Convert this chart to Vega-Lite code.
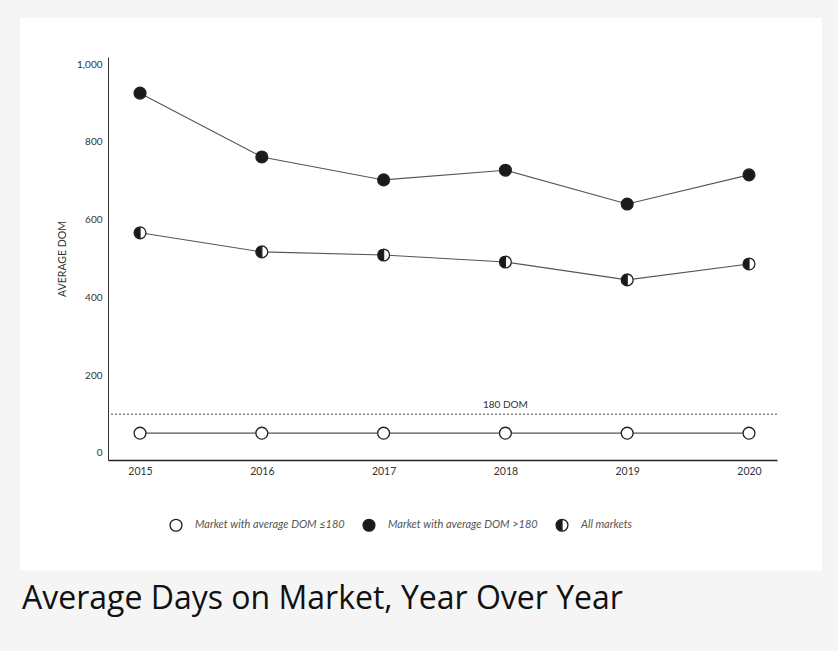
{
  "$schema": "https://vega.github.io/schema/vega-lite/v6.json",
  "autosize": "none",
  "width": 669,
  "height": 403,
  "padding": {"left": 108, "top": 57, "right": 61, "bottom": 191},
  "background": "#f5f5f5",
  "view": {"stroke": null},
  "title": {
    "text": "Average Days on Market, Year Over Year",
    "orient": "bottom",
    "anchor": "start",
    "frame": "group",
    "offset": 13,
    "dx": -86,
    "font": "Open Sans",
    "fontSize": 32,
    "fontWeight": 400,
    "color": "#111111"
  },
  "config": {
    "font": "Lato",
    "axis": {
      "labelFont": "Lato",
      "labelColor": "#333333",
      "labelFontSize": 10,
      "ticks": false,
      "tickSize": 0,
      "grid": false,
      "titleFont": "Lato",
      "titleFontWeight": 400,
      "titleColor": "#333333"
    },
    "legend": {
      "labelFont": "Lato",
      "labelFontStyle": "italic",
      "labelFontSize": 11,
      "labelColor": "#555555"
    }
  },
  "datasets": {
    "dom": [
      {"year": 2015, "series": "Market with average DOM ≤180", "dom": 51},
      {"year": 2016, "series": "Market with average DOM ≤180", "dom": 51},
      {"year": 2017, "series": "Market with average DOM ≤180", "dom": 51},
      {"year": 2018, "series": "Market with average DOM ≤180", "dom": 51},
      {"year": 2019, "series": "Market with average DOM ≤180", "dom": 51},
      {"year": 2020, "series": "Market with average DOM ≤180", "dom": 51},
      {"year": 2015, "series": "Market with average DOM >180", "dom": 925},
      {"year": 2016, "series": "Market with average DOM >180", "dom": 761},
      {"year": 2017, "series": "Market with average DOM >180", "dom": 702},
      {"year": 2018, "series": "Market with average DOM >180", "dom": 727},
      {"year": 2019, "series": "Market with average DOM >180", "dom": 640},
      {"year": 2020, "series": "Market with average DOM >180", "dom": 715},
      {"year": 2015, "series": "All markets", "dom": 566},
      {"year": 2016, "series": "All markets", "dom": 517},
      {"year": 2017, "series": "All markets", "dom": 509},
      {"year": 2018, "series": "All markets", "dom": 491},
      {"year": 2019, "series": "All markets", "dom": 445},
      {"year": 2020, "series": "All markets", "dom": 486}
    ],
    "threshold": [
      {"dom": 100, "label": "180 DOM", "year": 2018}
    ],
    "panel": [
      {"kind": "figure"}
    ]
  },
  "layer": [
    {
      "description": "white chart panel",
      "data": {"name": "panel"},
      "mark": {"type": "rect", "fill": "white"},
      "encoding": {
        "x": {"datum": 2014.015, "type": "quantitative", "scale": {"domain": [2014.737, 2020.23], "nice": false, "zero": false}},
        "x2": {"datum": 2020.599},
        "y": {"datum": 1118, "type": "quantitative", "scale": {"domain": [-18, 1018], "nice": false, "zero": false}},
        "y2": {"datum": -303}
      }
    },
    {
      "data": {"name": "threshold"},
      "mark": {"type": "rule", "stroke": "#444444", "strokeWidth": 1, "strokeDash": [2, 2]},
      "encoding": {
        "y": {"field": "dom", "type": "quantitative"}
      }
    },
    {
      "data": {"name": "threshold"},
      "mark": {"type": "text", "font": "Lato", "fontSize": 10, "color": "#333333", "baseline": "bottom", "dy": -4},
      "encoding": {
        "x": {"field": "year", "type": "quantitative"},
        "y": {"field": "dom", "type": "quantitative"},
        "text": {"field": "label"}
      }
    },
    {
      "data": {"name": "dom"},
      "mark": {"type": "line", "stroke": "#555555", "strokeWidth": 1.1},
      "encoding": {
        "x": {"field": "year", "type": "quantitative"},
        "y": {"field": "dom", "type": "quantitative"},
        "detail": {"field": "series"}
      }
    },
    {
      "data": {"name": "dom"},
      "mark": {"type": "point", "shape": "circle", "filled": true, "fill": "white", "size": 140, "opacity": 1, "strokeWidth": 0},
      "encoding": {
        "x": {"field": "year", "type": "quantitative"},
        "y": {"field": "dom", "type": "quantitative"}
      }
    },
    {
      "data": {"name": "dom"},
      "mark": {"type": "point", "filled": true, "size": 140, "opacity": 1, "strokeWidth": 1.3},
      "encoding": {
        "x": {
          "field": "year",
          "type": "quantitative",
          "title": null,
          "axis": {
            "values": [2015, 2016, 2017, 2018, 2019, 2020],
            "format": "d",
            "domainColor": "#222222",
            "domainWidth": 1.5,
            "labelPadding": 6,
            "labelFontSize": 10.5,
            "zindex": 1
          }
        },
        "y": {
          "field": "dom",
          "type": "quantitative",
          "title": "AVERAGE DOM",
          "axis": {
            "values": [0, 200, 400, 600, 800, 1000],
            "format": ",.0f",
            "domainColor": "#333333",
            "domainWidth": 1,
            "labelPadding": 6,
            "titleFontSize": 10.5,
            "titlePadding": 9,
            "zindex": 1
          }
        },
        "shape": {
          "field": "series",
          "type": "nominal",
          "scale": {
            "domain": ["Market with average DOM ≤180", "Market with average DOM >180", "All markets"],
            "range": ["circle", "circle", "M0,-1A1,1,0,0,0,0,1A1,1,0,0,0,0,-1ZM0,-1A1,1,0,0,1,0,1Z"]
          },
          "legend": {
            "title": null,
            "orient": "none",
            "direction": "horizontal",
            "legendX": 61,
            "legendY": 461,
            "symbolSize": 140,
            "symbolStrokeWidth": 1.3,
            "labelOffset": 12,
            "columnPadding": 15
          }
        },
        "fill": {
          "field": "series",
          "type": "nominal",
          "scale": {
            "domain": ["Market with average DOM ≤180", "Market with average DOM >180", "All markets"],
            "range": ["white", "#1a1a1a", "#1a1a1a"]
          }
        },
        "stroke": {
          "field": "series",
          "type": "nominal",
          "scale": {
            "domain": ["Market with average DOM ≤180", "Market with average DOM >180", "All markets"],
            "range": ["#222222", "#222222", "#222222"]
          }
        }
      }
    }
  ]
}
